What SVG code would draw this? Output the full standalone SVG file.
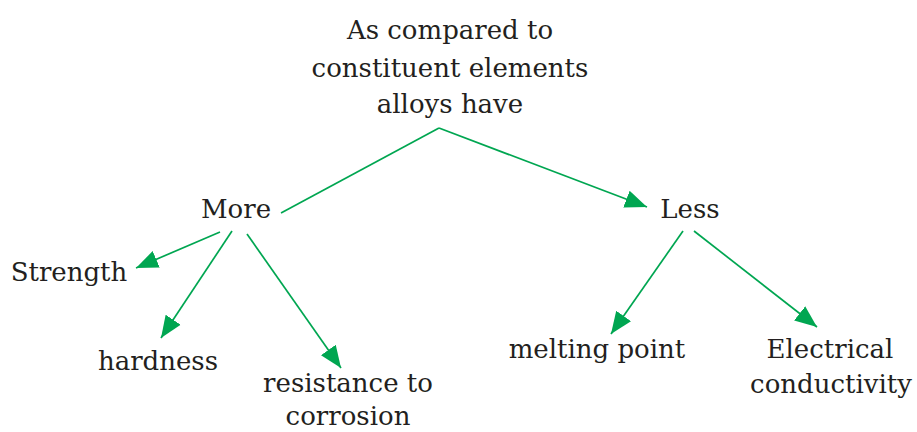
<svg xmlns="http://www.w3.org/2000/svg" width="917" height="432" viewBox="0 0 917 432">
<style>
text{font-family:"DejaVu Serif","Liberation Serif",serif;font-size:26px;fill:#231f20;text-anchor:middle}
.c line{stroke:#00a651;stroke-width:1.7;fill:none}
.c .a{marker-end:url(#ah)}
</style>
<defs>
<marker id="ah" markerUnits="userSpaceOnUse" markerWidth="24" markerHeight="20" viewBox="0 0 24 20" refX="22" refY="10" orient="auto">
<path d="M0,1 L22,10 L0,19 Z" fill="#00a651"/>
</marker>
</defs>
<rect width="917" height="432" fill="#fff"/>
<g id="root"><text x="450" y="39">As compared to</text><text x="450" y="77">constituent elements</text><text x="450" y="113">alloys have</text></g>
<g id="more"><text x="236" y="218">More</text></g>
<g id="less"><text x="690" y="218">Less</text></g>
<g id="strength"><text x="69" y="281">Strength</text></g>
<g id="hardness"><text x="158" y="370">hardness</text></g>
<g id="resistance"><text x="348" y="392">resistance to</text><text x="348" y="425">corrosion</text></g>
<g id="melting"><text x="597" y="358">melting point</text></g>
<g id="electrical"><text x="830" y="358">Electrical</text><text x="831" y="393">conductivity</text></g>
<g class="c" id="connectors">
<line x1="281" y1="213" x2="439" y2="128"/>
<line class="a" x1="439" y1="128" x2="647" y2="207"/>
<line class="a" x1="220" y1="232" x2="136" y2="268"/>
<line class="a" x1="232" y1="231" x2="161" y2="338"/>
<line class="a" x1="247" y1="234" x2="341" y2="368"/>
<line class="a" x1="683" y1="231" x2="611" y2="334"/>
<line class="a" x1="694" y1="231" x2="817" y2="327"/>
</g>
</svg>
